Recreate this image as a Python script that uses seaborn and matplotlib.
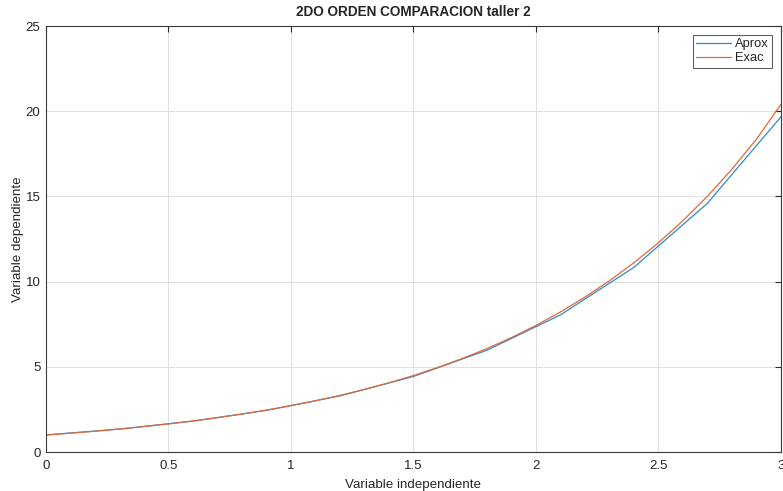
import matplotlib
matplotlib.use("Agg")
import matplotlib.pyplot as plt
import pandas as pd
import seaborn as sns

# approximate solution, step 0.3
x_aprox = [0.0, 0.3, 0.6, 0.9, 1.2, 1.5, 1.8, 2.1, 2.4, 2.7, 3.0]
y_aprox = [1.0, 1.347, 1.815, 2.444, 3.293, 4.435, 5.975, 8.048, 10.84, 14.60, 19.67]

# exact solution, step 0.1
x_exac = [0.0, 0.1, 0.2, 0.3, 0.4, 0.5, 0.6, 0.7, 0.8, 0.9, 1.0,
          1.1, 1.2, 1.3, 1.4, 1.5, 1.6, 1.7, 1.8, 1.9, 2.0,
          2.1, 2.2, 2.3, 2.4, 2.5, 2.6, 2.7, 2.8, 2.9, 3.0]
y_exac = [1.0, 1.105, 1.221, 1.350, 1.492, 1.649, 1.822, 2.014, 2.226, 2.460, 2.718,
          3.005, 3.322, 3.673, 4.060, 4.490, 4.965, 5.490, 6.070, 6.715, 7.430,
          8.220, 9.090, 10.05, 11.11, 12.28, 13.58, 15.01, 16.60, 18.36, 20.40]

aprox = pd.DataFrame({"x": x_aprox, "y": y_aprox, "serie": "Aprox"})
exac = pd.DataFrame({"x": x_exac, "y": y_exac, "serie": "Exac"})
data = pd.concat([aprox, exac], ignore_index=True)

sns.set_style("white")
plt.rcParams["font.family"] = ["Liberation Sans", "DejaVu Sans"]

fig = plt.figure(figsize=(7.83, 4.91), dpi=100)
ax = fig.add_axes([0.0587, 0.0794, 0.9387, 0.8676])

sns.lineplot(data=data, x="x", y="y", hue="serie",
             palette={"Aprox": "#2f8ac6", "Exac": "#dc6a3a"},
             linewidth=0.9, ax=ax, sort=False, estimator=None)

ax.set_xlim(0, 3)
ax.set_ylim(0, 25)
ax.set_xticks([0, 0.5, 1, 1.5, 2, 2.5, 3])
ax.set_xticklabels(["0", "0.5", "1", "1.5", "2", "2.5", "3"])
ax.set_yticks([0, 5, 10, 15, 20, 25])
ax.grid(True, color="#e0e0e0", linewidth=0.7)
ax.tick_params(direction="in", length=4, width=0.8, colors="#262626",
               labelsize=9.5, top=True, right=True)
ax.tick_params(axis="x", pad=6)
ax.tick_params(axis="y", pad=4)
for s in ax.spines.values():
    s.set_color("#3a3a3a")
    s.set_linewidth(0.8)

ax.set_title("2DO ORDEN COMPARACION taller 2", fontsize=9.8, fontweight="bold", pad=7)
ax.set_xlabel("Variable independiente", fontsize=9.6, color="#262626", labelpad=5)
ax.set_ylabel("Variable dependiente", fontsize=9.6, color="#262626", labelpad=1)

leg = ax.legend(loc="upper right", fontsize=9.3, frameon=True, fancybox=False,
                edgecolor="#3a3a3a", handlelength=2.7, borderaxespad=0.7,
                borderpad=0.25, labelspacing=0.15, handletextpad=0.3)
leg.get_frame().set_linewidth(0.8)

fig.savefig("out.png", dpi=100)
